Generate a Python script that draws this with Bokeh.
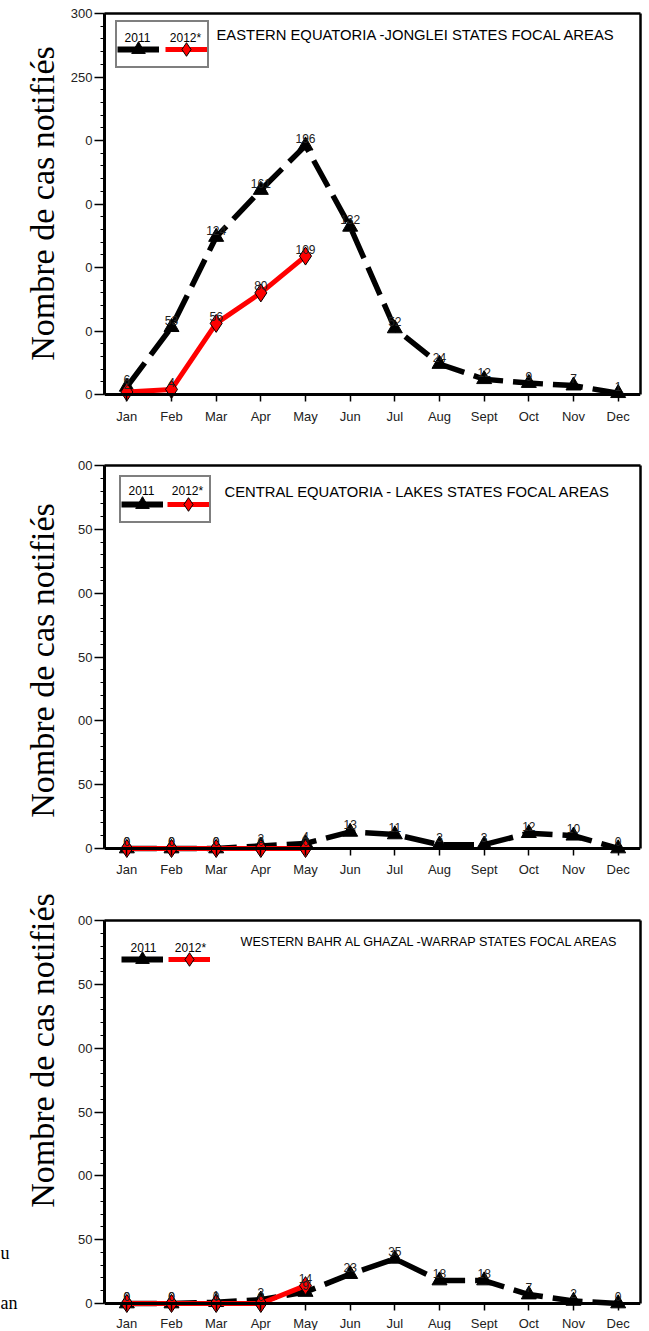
import math
from bokeh.plotting import figure
from bokeh.models import (ColumnDataSource, LinearAxis, FixedTicker, SingleIntervalTicker,
                          Range1d, Label, Legend, LegendItem)
from bokeh.layouts import column, row
from bokeh.embed import file_html
from bokeh.resources import INLINE
from bokeh.core.properties import value

# ---------------- data ----------------
months = ["Jan", "Feb", "Mar", "Apr", "May", "Jun", "Jul", "Aug", "Sept", "Oct", "Nov", "Dec"]
month_idx = list(range(1, 13))
series_names = ["2011", "2012*"]
y_axis_title = "Nombre de cas notifiés"

panel_titles = [
    "EASTERN EQUATORIA -JONGLEI  STATES FOCAL AREAS",
    "CENTRAL EQUATORIA - LAKES STATES FOCAL AREAS",
    "WESTERN BAHR AL GHAZAL -WARRAP STATES FOCAL AREAS",
]

east_2011 = [6, 53, 124, 161, 196, 132, 52, 24, 12, 9, 7, 1]
east_2012 = [2, 4, 56, 80, 109]
central_2011 = [0, 0, 0, 2, 4, 13, 11, 3, 3, 12, 10, 0]
central_2012 = [0, 0, 0, 0, 0]
western_2011 = [0, 0, 1, 3, 9, 23, 35, 18, 18, 7, 2, 0]
western_2012 = [0, 0, 0, 0, 14]

ytick_values = [0, 50, 100, 150, 200, 250, 300]
ytick_labels_east = ["0", "0", "0", "0", "0", "250", "300"]
ytick_labels_central = ["0", "50", "00", "50", "00", "50", "00"]
ytick_labels_western = ["0", "50", "00", "50", "00", "50", "00"]
margin_fragments = ["u", "an"]

panels_2011 = [east_2011, central_2011, western_2011]
panels_2012 = [east_2012, central_2012, western_2012]
panels_yticks = [ytick_labels_east, ytick_labels_central, ytick_labels_western]

# ---------------- layout / style ----------------
SANS = "Liberation Sans"
SERIF = "Liberation Serif"
Y_MAX = 300
SIDE_W = 60          # side strip holding the rotated y titles
MAIN_W = 588
TOTAL_H = 1330
FL, FR = 104, 640    # common frame left / right (page px)

# page px: fig top, frame top, zero line, frame bottom, fig bottom
geoms = [
    dict(top=0, ft=13, zero=394, fb=426, bot=453, xstand=7,
         leg=(137, 185, 50), leg_text_y=37, leg_border=True, title_xy=(216, 34),
         title_size="14.8px", ytitle_y=203),
    dict(top=453, ft=465, zero=848, fb=880, bot=905, xstand=6,
         leg=(141, 187, 505), leg_text_y=490, leg_border=True, title_xy=(224, 491),
         title_size="14.8px", ytitle_y=660),
    dict(top=905, ft=920, zero=1303, fb=1330, bot=1330, xstand=5,
         leg=(143, 190, 958), leg_text_y=947, leg_border=False, title_xy=(240, 941),
         title_size="12.6px", ytitle_y=1050),
]
for g in geoms:
    g["y0"] = -(g["fb"] - g["zero"]) / (g["zero"] - g["ft"]) * Y_MAX


def page_to_data(g, px, py):
    fx = 0.5 + (px - FL) / (FR - FL) * 12.0
    fy = g["y0"] + (g["fb"] - py) / (g["fb"] - g["ft"]) * (Y_MAX - g["y0"])
    return fx, fy


def make_panel(i):
    g = geoms[i]
    p = figure(width=MAIN_W, height=g["bot"] - g["top"], x_range=Range1d(0.5, 12.5),
               y_range=Range1d(g["y0"], Y_MAX),
               x_axis_type=None, y_axis_type=None, toolbar_location=None, output_backend="svg",
               min_border_left=FL - SIDE_W, min_border_right=SIDE_W + MAIN_W - FR,
               min_border_top=g["ft"] - g["top"], min_border_bottom=g["bot"] - g["fb"],
               outline_line_color=None, background_fill_color="white", border_fill_color="white")

    xa = LinearAxis(ticker=FixedTicker(ticks=month_idx),
                    major_label_overrides={m: lab for m, lab in zip(month_idx, months)},
                    fixed_location=0, axis_line_width=3, axis_line_color="black",
                    major_tick_out=7, major_tick_in=0, minor_tick_out=0, minor_tick_in=0,
                    major_tick_line_width=1.5, major_label_standoff=g["xstand"],
                    major_label_text_font=SANS, major_label_text_font_size="13px",
                    major_label_text_color="#222222")
    p.add_layout(xa, "below")

    ya = LinearAxis(ticker=SingleIntervalTicker(interval=50, num_minor_ticks=5), bounds=(0, Y_MAX),
                    major_label_overrides={v: lab for v, lab in zip(ytick_values, panels_yticks[i])},
                    axis_line_width=3, axis_line_color="black",
                    major_tick_out=10, major_tick_in=0, minor_tick_out=4, minor_tick_in=0,
                    major_tick_line_width=1.5, minor_tick_line_width=1.2,
                    major_label_standoff=2, major_label_text_font=SANS,
                    major_label_text_font_size="13px", major_label_text_color="#222222")
    p.add_layout(ya, "left")

    top = LinearAxis(ticker=FixedTicker(ticks=[]), axis_line_width=2.5, axis_line_color="black",
                     major_tick_out=0, major_tick_in=0, minor_tick_out=0, minor_tick_in=0,
                     major_label_standoff=0)
    p.add_layout(top, "above")
    right = LinearAxis(ticker=FixedTicker(ticks=[]), bounds=(0, Y_MAX), axis_line_width=2.5,
                       axis_line_color="black", major_tick_out=0, major_tick_in=0,
                       minor_tick_out=0, minor_tick_in=0, major_label_standoff=0)
    p.add_layout(right, "right")

    v11 = panels_2011[i]
    v12 = panels_2012[i]
    s11 = ColumnDataSource(dict(x=month_idx[:len(v11)], y=v11, t=[str(v) for v in v11]))
    s12 = ColumnDataSource(dict(x=month_idx[:len(v12)], y=v12, t=[str(v) for v in v12]))

    p.line("x", "y", source=s11, line_color="black", line_width=5.5, line_dash="30 10")
    m1 = p.scatter("x", "y", source=s11, marker="triangle", size=15, fill_color="black",
                   line_color="black")
    l2 = p.line("x", "y", source=s12, line_color="#ff0000", line_width=5)
    m2 = p.scatter("x", "y", source=s12, marker="diamond", size=18, fill_color="#ff0000",
                   line_color="black", line_width=1)
    # solid key line for the legend swatch only (a single NaN point draws nothing in the plot)
    key1 = p.line(x=[float("nan")], y=[float("nan")], line_color="black", line_width=6)

    for src in (s11, s12):
        p.text("x", "y", text="t", source=src, text_align="center", text_baseline="middle",
               y_offset=-7, text_font=value(SANS), text_font_size="12px", text_color="#222222")

    # legend (symbols) + year labels above them
    gc1, gc2, gcy = g["leg"]
    gw, gh = 42, 34
    legend = Legend(items=[LegendItem(label=value(""), renderers=[key1, m1]),
                           LegendItem(label=value(""), renderers=[l2, m2])],
                    orientation="horizontal",
                    location=(gc1 - 22 - FL, g["fb"] - (gcy + 18)),
                    glyph_width=gw, glyph_height=gh, padding=0, spacing=gc2 - gc1 - gw, margin=0,
                    label_standoff=0, label_width=0, label_height=0, label_text_font_size="1px",
                    title=" ", title_text_font_size="9px", title_standoff=0,
                    border_line_color="black" if g["leg_border"] else None,
                    border_line_width=2, background_fill_alpha=0.0)
    p.add_layout(legend)

    for name, gx in zip(series_names, (gc1, gc2)):
        lx, ly = page_to_data(g, gx, g["leg_text_y"])
        p.add_layout(Label(x=lx, y=ly, text=name, text_align="center", text_baseline="middle",
                           text_font=SANS, text_font_size="12px", text_color="black",
                           level="overlay"))

    tx, ty = page_to_data(g, *g["title_xy"])
    p.add_layout(Label(x=tx, y=ty, text=panel_titles[i], text_align="left", text_baseline="middle",
                       text_font=SANS, text_font_size=g["title_size"], text_color="black",
                       level="overlay"))
    return p


# side strip: page coordinates directly
side = figure(width=SIDE_W, height=TOTAL_H, x_range=Range1d(0, SIDE_W), y_range=Range1d(TOTAL_H, 0),
              x_axis_type=None, y_axis_type=None, toolbar_location=None, output_backend="svg",
              min_border=0, outline_line_color=None, background_fill_color="white",
              border_fill_color="white")
for g in geoms:
    side.add_layout(Label(x=42, y=g["ytitle_y"], text=y_axis_title, angle=math.pi / 2,
                          text_align="center", text_baseline="alphabetic", text_font=SERIF,
                          text_font_size="34px", text_color="black"))
for frag, py in zip(margin_fragments, (1252, 1302)):
    side.add_layout(Label(x=0, y=py, text=frag, text_align="left", text_baseline="middle",
                          text_font=SERIF, text_font_size="18px", text_color="black"))

layout = row(side, column(*[make_panel(i) for i in range(3)], spacing=0), spacing=0)
open("out.html", "w").write(file_html(layout, INLINE))
